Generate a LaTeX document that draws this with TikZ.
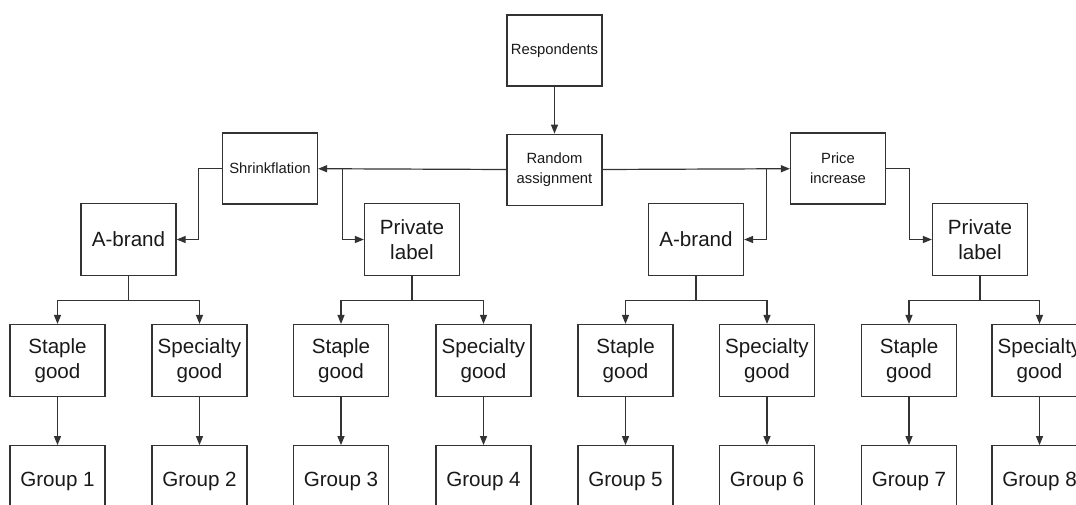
\documentclass[tikz,border=0pt]{standalone}
\usepackage{fontspec}
\setmainfont{Liberation Sans}
\usetikzlibrary{positioning, arrows.meta}
\tikzset{
    base/.style={draw=black!80, line width=1.2pt, rectangle, align=center, inner sep=2pt, minimum width=95pt, text=black!90},
    box/.style={base, minimum height=72pt, font=\fontsize{20.6}{25.5}\selectfont},
    smallbox/.style={base, minimum height=71pt, font=\fontsize{14.8}{20}\selectfont},
    arrow/.style={-{Triangle[length=9pt, width=7pt]}, line width=1.2pt, draw=black!80}
}

\begin{document}
\begin{tikzpicture}[x=1pt, y=-1pt]
    \useasboundingbox (0,0) rectangle (1076,504);
    \clip (0,0) rectangle (1076,504);
    % Nodes
    \node [smallbox] (resp) at (554.5,50.5) {Respondents};
    \node [smallbox, below=47pt of resp] (rand) {Random\\assignment};
    \node [smallbox] (shrink) at (270,168.5) {Shrinkflation};
    \node [smallbox] (price) at (838,168.5) {Price\\increase};

    \node [box] (brandA) at (128.5,239.5) {A-brand};
    \node [box] (labelA) at (412,239.5) {Private\\label};
    \node [box] (brandB) at (696,239.5) {A-brand};
    \node [box] (labelB) at (980,239.5) {Private\\label};

    % Goods and groups
    \foreach \i/\x/\kind in {1/57.5/Staple, 2/199.5/Specialty, 3/341/Staple, 4/483.5/Specialty,
                             5/625.5/Staple, 6/767/Specialty, 7/909/Staple, 8/1039.5/Specialty} {
        \node [box] (good\i) at (\x,360.5) {\kind\\good};
        \node [box, below=48pt of good\i] (group\i) {Group \i};
        \draw [arrow] (good\i) -- (group\i);
    }

    % Connections
    \draw [arrow] (resp) -- (rand);
    \draw [arrow] (rand) -- (shrink);
    \draw [arrow] (rand) -- (price);
    \draw [arrow] (shrink.west) -- ++(-23.5,0) |- (brandA);
    \draw [arrow] ([xshift=24pt]shrink.east) |- (labelA);
    \draw [arrow] ([xshift=-23.5pt]price.west) |- (brandB);
    \draw [arrow] (price.east) -- ++(23.5,0) |- (labelB);

    \foreach \p/\a/\b in {brandA/1/2, labelA/3/4, brandB/5/6, labelB/7/8} {
        \draw [arrow] (\p.south) -- ++(0,24.5) -| (good\a.north);
        \draw [arrow] (\p.south) -- ++(0,24.5) -| (good\b.north);
    }
\end{tikzpicture}
\end{document}
